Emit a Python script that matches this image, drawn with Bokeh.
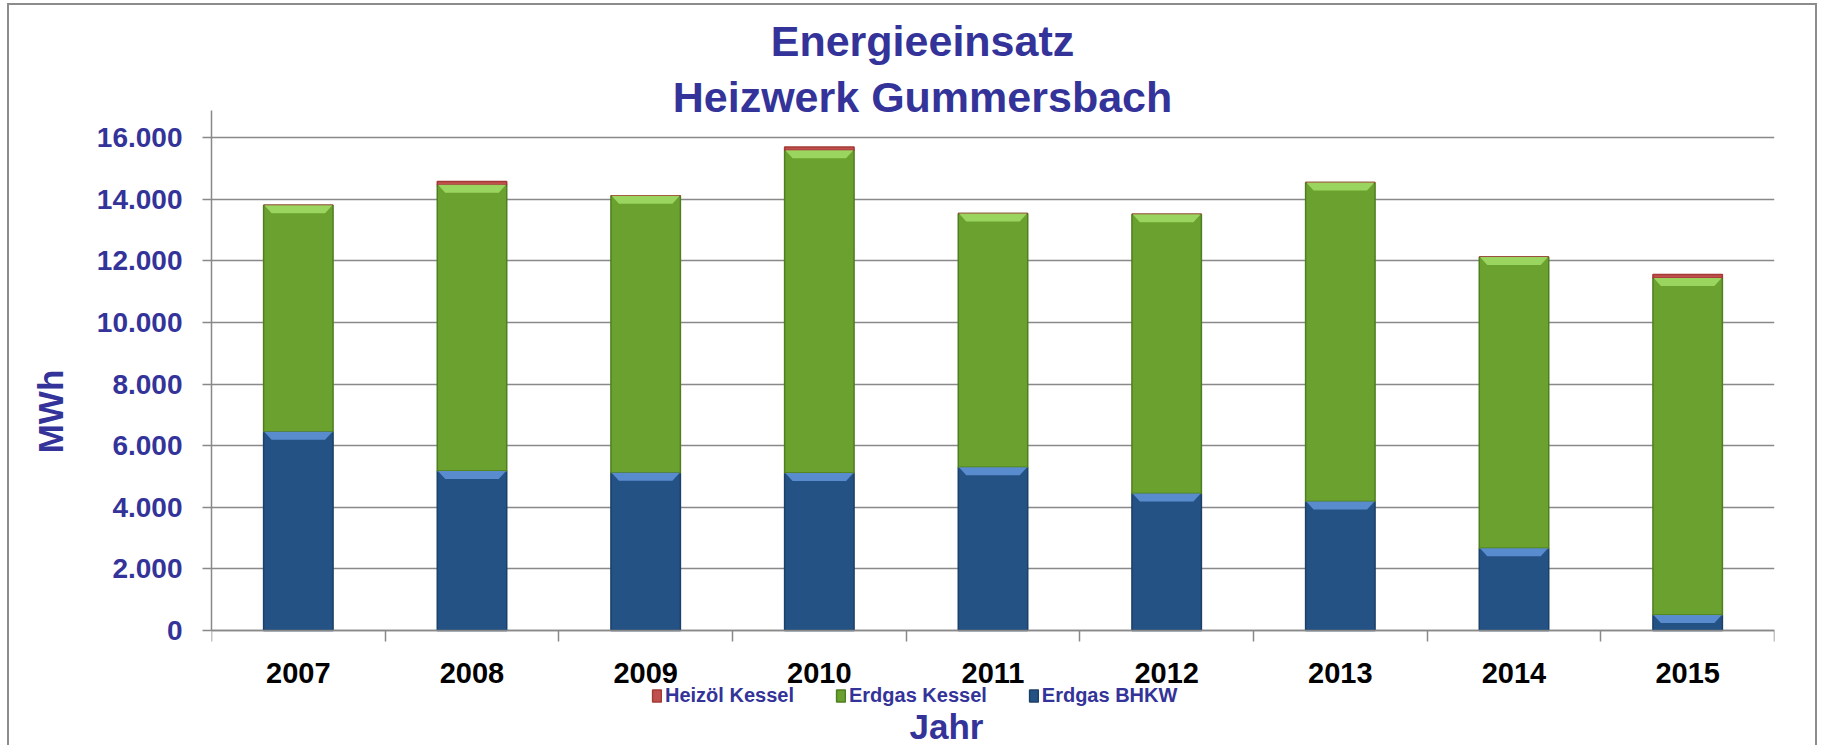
from bokeh.plotting import figure
from bokeh.models import FixedTicker, Legend, LegendItem, ColumnDataSource, Label
from bokeh.embed import file_html
from bokeh.resources import INLINE

# ---------------- data ----------------
years = ["2007", "2008", "2009", "2010", "2011", "2012", "2013", "2014", "2015"]
erdgas_bhkw = [6450, 5180, 5120, 5110, 5300, 4450, 4190, 2670, 500]
erdgas_kessel = [7350, 9290, 8990, 10480, 8230, 9060, 10350, 9450, 10940]
heizoel_kessel = [0, 100, 0, 100, 0, 0, 0, 0, 110]
series_names = ["Erdgas BHKW", "Erdgas Kessel", "Heizöl Kessel"]
y_ticks = [0, 2000, 4000, 6000, 8000, 10000, 12000, 14000, 16000]
y_tick_labels = ["0", "2.000", "4.000", "6.000", "8.000", "10.000", "12.000", "14.000", "16.000"]
title_lines = ["Energieeinsatz", "Heizwerk Gummersbach"]
x_title = "Jahr"
y_title = "MWh"

# ---------------- style / geometry ----------------
TXT = "#333399"
GRID = "#898989"
BLUE, BLUE_L, BLUE_E = "#255284", "#5C8FD2", "#1C4068"
GREEN, GREEN_L, GREEN_E = "#6BA12F", "#9DD862", "#4F7E20"
RED, RED_E = "#C0504D", "#A33A36"
SANS = "Liberation Sans"

W, H = 1810, 742
ML, MR = 202, 45
PX_ZERO, PX_TOP_TICK, PX_AXIS_TOP = 625, 132, 105     # canvas rows of 0, 16.000, axis end
du = y_ticks[-1] / (PX_ZERO - PX_TOP_TICK)             # data units per pixel
y_start = -(H - PX_ZERO) * du
y_end = PX_ZERO * du
y_axis_top = (PX_ZERO - PX_AXIS_TOP) * du
frame_w = W - ML - MR

xs = list(range(1, len(years) + 1))
src = ColumnDataSource(dict(x=xs, bhkw=erdgas_bhkw, kessel=erdgas_kessel, oel=heizoel_kessel))

p = figure(width=W, height=H, x_range=(0.5, len(years) + 0.5), y_range=(y_start, y_end),
           output_backend="svg", toolbar_location=None,
           min_border_left=ML, min_border_right=MR, min_border_top=0, min_border_bottom=0)
p.styles = {"margin-left": "7px", "margin-top": "3px",
            "border-left": "2px solid #8c8c8c", "border-top": "2px solid #8c8c8c",
            "border-right": "2px solid #8c8c8c"}
p.title.visible = False
p.outline_line_color = None
p.xgrid.visible = False
p.ygrid.grid_line_color = GRID
p.ygrid.grid_line_width = 1.5

# y axis
p.yaxis.ticker = FixedTicker(ticks=y_ticks)
p.yaxis.bounds = (0, y_axis_top)
p.yaxis.major_label_overrides = {t: l for t, l in zip(y_ticks, y_tick_labels)}
p.yaxis.major_label_text_font = SANS
p.yaxis.major_label_text_font_style = "bold"
p.yaxis.major_label_text_font_size = "28px"
p.yaxis.major_label_text_color = TXT
p.yaxis.major_tick_out = 9
p.yaxis.major_tick_in = 0
p.yaxis.minor_tick_out = 0
p.yaxis.minor_tick_in = 0
p.yaxis.major_label_standoff = 20
p.yaxis.axis_line_color = GRID
p.yaxis.axis_line_width = 1.5
p.yaxis.major_tick_line_color = GRID
p.yaxis.major_tick_line_width = 1.5
# trailing em spaces move the centred axis title down to where the reference has it
p.yaxis.axis_label = y_title + "\u2003\u2003"
p.yaxis.axis_label_standoff = 24
p.yaxis.axis_label_text_font = SANS
p.yaxis.axis_label_text_font_style = "bold"
p.yaxis.axis_label_text_font_size = "35px"
p.yaxis.axis_label_text_color = TXT

# x axis at value 0: labels at centres, tick marks at category boundaries
p.xaxis.fixed_location = 0
p.xaxis.ticker = FixedTicker(ticks=xs, minor_ticks=[v - 0.5 for v in xs] + [xs[-1] + 0.5])
p.xaxis.major_label_overrides = {v: yv for v, yv in zip(xs, years)}
p.xaxis.major_label_text_font = SANS
p.xaxis.major_label_text_font_style = "bold"
p.xaxis.major_label_text_font_size = "29px"
p.xaxis.major_label_text_color = "black"
p.xaxis.major_tick_out = 0
p.xaxis.major_tick_in = 0
p.xaxis.minor_tick_out = 11
p.xaxis.minor_tick_in = 0
p.xaxis.minor_tick_line_color = GRID
p.xaxis.minor_tick_line_width = 1.5
p.xaxis.major_label_standoff = 21
p.xaxis.axis_line_color = GRID
p.xaxis.axis_line_width = 1.5

# bars
bar_w = 0.4
rs = p.vbar_stack(["bhkw", "kessel", "oel"], x="x", width=bar_w, source=src,
                  fill_color=[BLUE, GREEN, RED], line_color=[BLUE_E, GREEN_E, RED_E],
                  line_width=1.5)

# bevel highlight on top of each segment (computed from the data)
xu_per_px = len(years) / frame_w
bev = 8 * du
ins = 8 * xu_per_px
def bevel(tops, bottoms):
    bx, by = [], []
    for xc, t, b in zip(xs, tops, bottoms):
        if t - b <= 0:
            continue
        h = min(bev, t - b)
        bx.append([xc - bar_w / 2 + 0.004, xc + bar_w / 2 - 0.004, xc + bar_w / 2 - ins, xc - bar_w / 2 + ins])
        by.append([t, t, t - h, t - h])
    return bx, by
tops_b = erdgas_bhkw
tops_g = [a + b for a, b in zip(erdgas_bhkw, erdgas_kessel)]
bx, by = bevel(tops_b, [0] * len(xs))
p.patches(bx, by, fill_color=BLUE_L, line_color=None, fill_alpha=0.95)
gx, gy = bevel(tops_g, tops_b)
p.patches(gx, gy, fill_color=GREEN_L, line_color=None, fill_alpha=0.95)

# legend below the axis labels
legend = Legend(items=[LegendItem(label=series_names[2], renderers=[rs[2]]),
                       LegendItem(label=series_names[1], renderers=[rs[1]]),
                       LegendItem(label=series_names[0], renderers=[rs[0]])],
                orientation="horizontal", location=(440, 40),
                glyph_width=11, glyph_height=15, label_standoff=3, spacing=41,
                padding=0, margin=0, border_line_color=None, background_fill_alpha=0,
                label_text_font=SANS, label_text_font_style="bold",
                label_text_font_size="20px", label_text_color=TXT)
p.add_layout(legend)

# texts
def canvas_label(text, x, y, size):
    p.add_layout(Label(x=x, y=y, x_units="canvas", y_units="canvas", text=text,
                       text_align="center", text_baseline="alphabetic",
                       text_font=SANS, text_font_style="bold", text_font_size=size,
                       text_color=TXT))
canvas_label(title_lines[0], 911, 33.5, "43px")
canvas_label(title_lines[1], 911, 89, "43px")
canvas_label(x_title, 935, 719, "35px")

open("out.html", "w").write(file_html(p, INLINE))
